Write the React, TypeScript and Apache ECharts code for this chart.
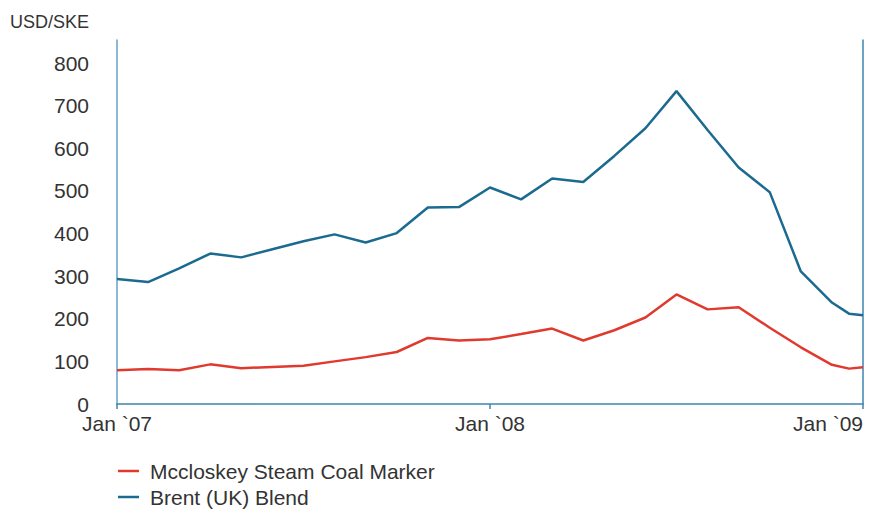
import React, { useEffect, useRef } from "react";
import * as echarts from "echarts";

// Month index from Jan 2007 (0) to Jan 2009 (24); one extra mid-December 2008 point
const monthIndex = [0, 1, 2, 3, 4, 5, 6, 7, 8, 9, 10, 11, 12, 13, 14, 15, 16, 17, 18, 19, 20, 21, 22, 23, 23.55, 24];
const coalValues = [79, 82, 79, 93, 84, 87, 90, 100, 110, 122, 155, 149, 152, 164, 177, 149, 173, 203, 257, 222, 227, 179, 133, 92, 83, 86];
const brentValues = [293, 286, 318, 353, 344, 363, 382, 398, 379, 401, 461, 462, 508, 480, 529, 521, 582, 647, 734, 643, 555, 497, 311, 238, 212, 208];
const xTickPositions = [0, 12, 24];
const xTickLabels = ["Jan `07", "Jan `08", "Jan `09"];
const seriesNames = ["Mccloskey Steam Coal Marker", "Brent (UK) Blend"];
const unitLabel = "USD/SKE";

const FONT = "'Liberation Sans', Arial, sans-serif";
const TEXT = "#333333";

export default function App() {
  const ref = useRef<HTMLDivElement>(null);
  useEffect(() => {
    if (!ref.current) return;
    const chart = echarts.init(ref.current, undefined, { renderer: "svg" });
    const pair = (vals: number[]) => vals.map((v, i) => [monthIndex[i], v]);
    const legendBase = {
      orient: "vertical",
      left: 118,
      padding: 0,
      icon: "rect",
      itemWidth: 21,
      itemHeight: 2.5,
      textStyle: { fontSize: 21, lineHeight: 22, color: TEXT, fontFamily: FONT, padding: [0, 0, 0, 6] },
    };
    chart.setOption({
      animation: false,
      textStyle: { fontFamily: FONT },
      grid: { left: 117, right: 13, top: 40, bottom: 105 },
      graphic: [
        {
          type: "text",
          left: 10,
          top: 13,
          style: { text: unitLabel, fontSize: 18, fill: TEXT, fontFamily: FONT },
        },
      ],
      legend: [
        { ...legendBase, top: 460, data: [seriesNames[0]] },
        { ...legendBase, top: 486, data: [seriesNames[1]] },
      ],
      xAxis: {
        type: "value",
        min: 0,
        max: 24,
        interval: 12,
        axisLine: { show: true, lineStyle: { color: "#3f84b0", width: 1.5 } },
        axisTick: { show: true, length: 5, lineStyle: { color: "#3f84b0", width: 1.5 } },
        splitLine: { show: false },
        axisLabel: {
          fontSize: 21,
          color: TEXT,
          margin: 9,
          alignMaxLabel: "right",
          formatter: (v: number) => {
            const i = xTickPositions.indexOf(v);
            return i >= 0 ? xTickLabels[i] : "";
          },
        },
      },
      yAxis: [
        {
          type: "value",
          min: 0,
          max: 854,
          interval: 100,
          position: "left",
          axisLine: { show: true, lineStyle: { color: "#6a9fc2", width: 1.5 } },
          axisTick: { show: false },
          splitLine: { show: false },
          axisLabel: {
            fontSize: 21,
            color: TEXT,
            margin: 28,
            showMaxLabel: false,
            formatter: (v: number) => (v % 100 === 0 ? String(v) : ""),
          },
        },
        {
          type: "value",
          min: 0,
          max: 854,
          interval: 100,
          position: "right",
          axisLine: { show: true, lineStyle: { color: "#3f84b0", width: 1.5 } },
          axisTick: { show: false },
          axisLabel: { show: false },
          splitLine: { show: false },
        },
      ],
      series: [
        {
          name: seriesNames[0],
          type: "line",
          data: pair(coalValues),
          symbol: "none",
          lineStyle: { color: "#e03a2f", width: 2.5 },
          itemStyle: { color: "#e03a2f" },
        },
        {
          name: seriesNames[1],
          type: "line",
          data: pair(brentValues),
          symbol: "none",
          lineStyle: { color: "#1b6a8f", width: 2.5 },
          itemStyle: { color: "#1b6a8f" },
        },
      ],
    });
    return () => chart.dispose();
  }, []);
  return (
    <div
      ref={ref}
      style={{ position: "fixed", left: 0, top: 0, width: 876, height: 509, background: "#fff" }}
    />
  );
}
